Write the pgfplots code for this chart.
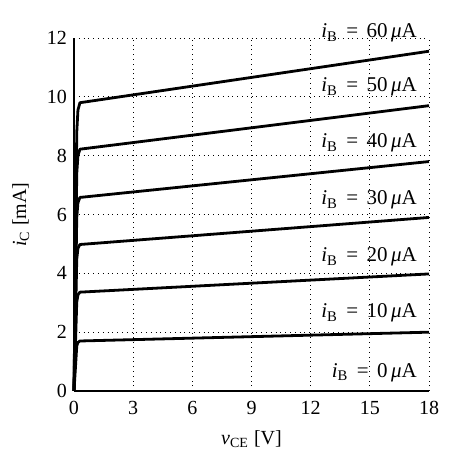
\documentclass[border=0pt]{standalone}
\usepackage{pgfplots}
\pgfplotsset{compat=1.18}
\usepackage{fontspec}
\setmainfont{Liberation Serif}
\newcommand{\sub}[1]{\textsubscript{#1}}
\newcommand{\lab}[1]{\textit{i}\sub{B}\hspace{0.4em}=\hspace{0.4em}#1\,\textit{μ}A}
\tikzset{curve/.style={black, line width=1.4pt, line join=round, mark=none},
  lbl/.style={anchor=east, inner sep=0pt, font=\fontsize{10.5}{12}\selectfont}}
\begin{document}
\begin{tikzpicture}
\begin{axis}[name=ax,
  scale only axis, width=177.5pt, height=176.5pt,
  xmin=0, xmax=18, ymin=0, ymax=12,
  axis lines=left, axis line style={line width=0.8pt, -},
  xtick={0,3,...,18}, ytick={0,2,...,12},
  major tick length=0pt,
  grid=major, grid style={dotted, black, line width=0.4pt},
  /pgf/number format/assume math mode=true,
  tick label style={font=\fontsize{10}{12}\selectfont},
  xticklabel style={yshift=-1.5pt},
  xlabel={\textit{v}\sub{CE} [V]}, ylabel={\textit{i}\sub{C} [mA]},
  label style={font=\fontsize{10}{12}\selectfont},
  xlabel style={yshift=-1pt}, ylabel style={yshift=2pt},
  clip=false,
]
\addplot[curve] coordinates {(0,0) (0.14,8.8) (0.2,9.55) (0.3,9.8) (18,11.55)};
\addplot[curve] coordinates {(0,0) (0.14,7.4) (0.2,8.0) (0.3,8.22) (18,9.7)};
\addplot[curve] coordinates {(0,0) (0.14,5.9) (0.2,6.4) (0.3,6.58) (18,7.8)};
\addplot[curve] coordinates {(0,0) (0.14,4.48) (0.2,4.85) (0.3,4.98) (18,5.9)};
\addplot[curve] coordinates {(0,0) (0.14,3.02) (0.2,3.27) (0.3,3.36) (18,3.98)};
\addplot[curve] coordinates {(0,0) (0.14,1.53) (0.2,1.65) (0.3,1.70) (18,2.0)};
\addplot[curve] coordinates {(0,0) (18,0)};
\node[lbl] at (axis cs:17.4,12.17) {\lab{60}};
\node[lbl] at (axis cs:17.4,10.33) {\lab{50}};
\node[lbl] at (axis cs:17.4,8.43) {\lab{40}};
\node[lbl] at (axis cs:17.4,6.49) {\lab{30}};
\node[lbl] at (axis cs:17.4,4.55) {\lab{20}};
\node[lbl] at (axis cs:17.4,2.65) {\lab{10}};
\node[lbl] at (axis cs:17.4,0.62) {\lab{0}};
\end{axis}
\path (ax.south west) ++(-37pt,-37.5pt) coordinate (bl);
\path (ax.north east) ++(17.5pt,19pt) coordinate (tr);
\path (bl) rectangle (tr);
\end{tikzpicture}
\end{document}
